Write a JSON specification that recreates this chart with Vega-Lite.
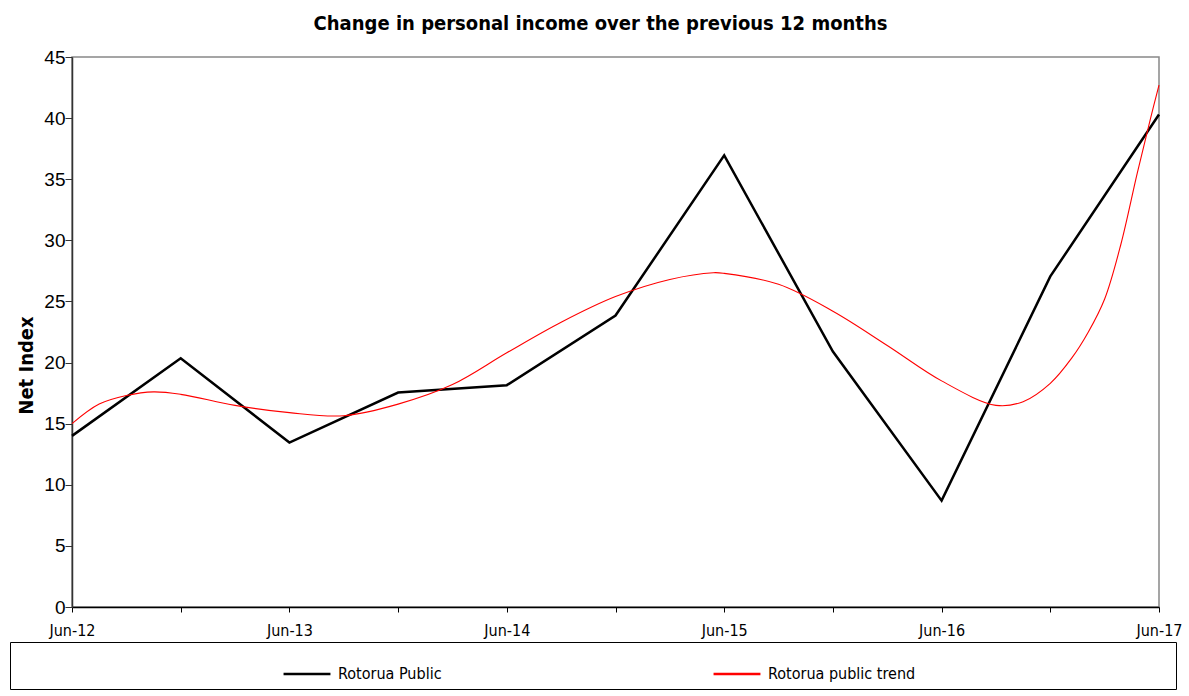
{
  "$schema": "https://vega.github.io/schema/vega-lite/v6.json",
  "width": 1087,
  "height": 550,
  "autosize": {"type": "none"},
  "padding": {"left": 72, "top": 57, "right": 30, "bottom": 89},
  "background": "white",
  "title": {
    "text": "Change in personal income over the previous 12 months",
    "font": "Liberation Sans Narrow, DejaVu Sans Condensed, sans-serif",
    "fontSize": 20,
    "fontWeight": "bold",
    "color": "black",
    "anchor": "middle",
    "offset": 14,
    "dx": -15
  },
  "config": {
    "view": {"stroke": "#888888", "strokeWidth": 1.5},
    "axis": {"grid": false, "labelColor": "black"}
  },
  "datasets": {
    "actual": [
      {"t": 0, "value": 14.0, "series": "Rotorua Public"},
      {"t": 1, "value": 20.35, "series": "Rotorua Public"},
      {"t": 2, "value": 13.45, "series": "Rotorua Public"},
      {"t": 3, "value": 17.55, "series": "Rotorua Public"},
      {"t": 4, "value": 18.15, "series": "Rotorua Public"},
      {"t": 5, "value": 23.85, "series": "Rotorua Public"},
      {"t": 6, "value": 36.95, "series": "Rotorua Public"},
      {"t": 7, "value": 20.9, "series": "Rotorua Public"},
      {"t": 8, "value": 8.7, "series": "Rotorua Public"},
      {"t": 9, "value": 27.05, "series": "Rotorua Public"},
      {"t": 10, "value": 40.3, "series": "Rotorua Public"}
    ],
    "trend": [
      {"t": 0, "value": 15.0, "series": "Rotorua public trend"},
      {"t": 0.25, "value": 16.6, "series": "Rotorua public trend"},
      {"t": 0.5, "value": 17.3, "series": "Rotorua public trend"},
      {"t": 0.75, "value": 17.6, "series": "Rotorua public trend"},
      {"t": 1.0, "value": 17.4, "series": "Rotorua public trend"},
      {"t": 1.5, "value": 16.5, "series": "Rotorua public trend"},
      {"t": 2.0, "value": 15.9, "series": "Rotorua public trend"},
      {"t": 2.5, "value": 15.65, "series": "Rotorua public trend"},
      {"t": 3.0, "value": 16.6, "series": "Rotorua public trend"},
      {"t": 3.5, "value": 18.2, "series": "Rotorua public trend"},
      {"t": 4.0, "value": 20.8, "series": "Rotorua public trend"},
      {"t": 4.5, "value": 23.3, "series": "Rotorua public trend"},
      {"t": 5.0, "value": 25.4, "series": "Rotorua public trend"},
      {"t": 5.5, "value": 26.8, "series": "Rotorua public trend"},
      {"t": 5.9, "value": 27.35, "series": "Rotorua public trend"},
      {"t": 6.0, "value": 27.3, "series": "Rotorua public trend"},
      {"t": 6.5, "value": 26.4, "series": "Rotorua public trend"},
      {"t": 7.0, "value": 24.2, "series": "Rotorua public trend"},
      {"t": 7.5, "value": 21.4, "series": "Rotorua public trend"},
      {"t": 8.0, "value": 18.5, "series": "Rotorua public trend"},
      {"t": 8.5, "value": 16.5, "series": "Rotorua public trend"},
      {"t": 8.75, "value": 16.8, "series": "Rotorua public trend"},
      {"t": 9.0, "value": 18.3, "series": "Rotorua public trend"},
      {"t": 9.2, "value": 20.4, "series": "Rotorua public trend"},
      {"t": 9.35, "value": 22.5, "series": "Rotorua public trend"},
      {"t": 9.5, "value": 25.2, "series": "Rotorua public trend"},
      {"t": 9.65, "value": 29.7, "series": "Rotorua public trend"},
      {"t": 9.8, "value": 35.5, "series": "Rotorua public trend"},
      {"t": 9.92, "value": 39.9, "series": "Rotorua public trend"},
      {"t": 10.0, "value": 42.7, "series": "Rotorua public trend"}
    ]
  },
  "encoding": {
    "x": {
      "field": "t",
      "type": "quantitative",
      "scale": {"domain": [0, 10], "nice": false, "zero": false},
      "axis": {
        "title": null,
        "values": [0, 1, 2, 3, 4, 5, 6, 7, 8, 9, 10],
        "labelExpr": "datum.value % 2 == 0 ? 'Jun-' + (12 + datum.value / 2) : ''",
        "labelFont": "Liberation Sans Narrow, DejaVu Sans Condensed, sans-serif",
        "labelFontSize": 16,
        "labelPadding": 10,
        "labelFlush": false,
        "labelOverlap": false,
        "tickSize": 5,
        "tickColor": "black",
        "domainColor": "black",
        "domainWidth": 1.5
      }
    },
    "y": {
      "field": "value",
      "type": "quantitative",
      "scale": {"domain": [0, 45], "nice": false},
      "axis": {
        "title": "Net Index",
        "titleFont": "Liberation Sans Narrow, DejaVu Sans Condensed, sans-serif",
        "titleFontSize": 20,
        "titleFontWeight": "bold",
        "titleColor": "black",
        "titleAngle": -90,
        "titleX": -40,
        "titleY": 308,
        "titleAlign": "center",
        "titleBaseline": "alphabetic",
        "values": [0, 5, 10, 15, 20, 25, 30, 35, 40, 45],
        "labelFont": "Liberation Sans, Arial, sans-serif",
        "labelFontSize": 19,
        "labelPadding": 0,
        "tickSize": 7,
        "tickColor": "#333333",
        "domainColor": "#333333",
        "domainWidth": 1.5
      }
    },
    "color": {
      "field": "series",
      "type": "nominal",
      "scale": {"domain": ["Rotorua Public", "Rotorua public trend"], "range": ["#000000", "#ff0000"]},
      "legend": {
        "title": "\u00a0",
        "titleOrient": "left",
        "titlePadding": 265,
        "orient": "none",
        "legendX": -62,
        "legendY": 585,
        "direction": "horizontal",
        "symbolType": "stroke",
        "symbolSize": 2200,
        "symbolStrokeWidth": 2.5,
        "labelFont": "Liberation Sans Narrow, DejaVu Sans Condensed, sans-serif",
        "labelFontSize": 16,
        "labelColor": "black",
        "labelOffset": 6,
        "labelLimit": 1000,
        "labelExpr": "datum.label == 'Rotorua public trend' ? datum.label + '\u2800\u2800\u2800\u2800\u2800\u2800\u2800\u2800\u2800\u2800\u2800\u2800\u2800\u2800\u2800\u2800\u2800\u2800\u2800\u2800\u2800\u2800\u2800\u2800' : datum.label",
        "columnPadding": 266,
        "padding": 7,
        "fillColor": "white",
        "strokeColor": "black"
      }
    }
  },
  "layer": [
    {
      "data": {"name": "actual"},
      "mark": {"type": "line", "strokeWidth": 2.5, "interpolate": "linear"}
    },
    {
      "data": {"name": "trend"},
      "mark": {"type": "line", "strokeWidth": 1.1, "interpolate": "catmull-rom"}
    }
  ]
}
